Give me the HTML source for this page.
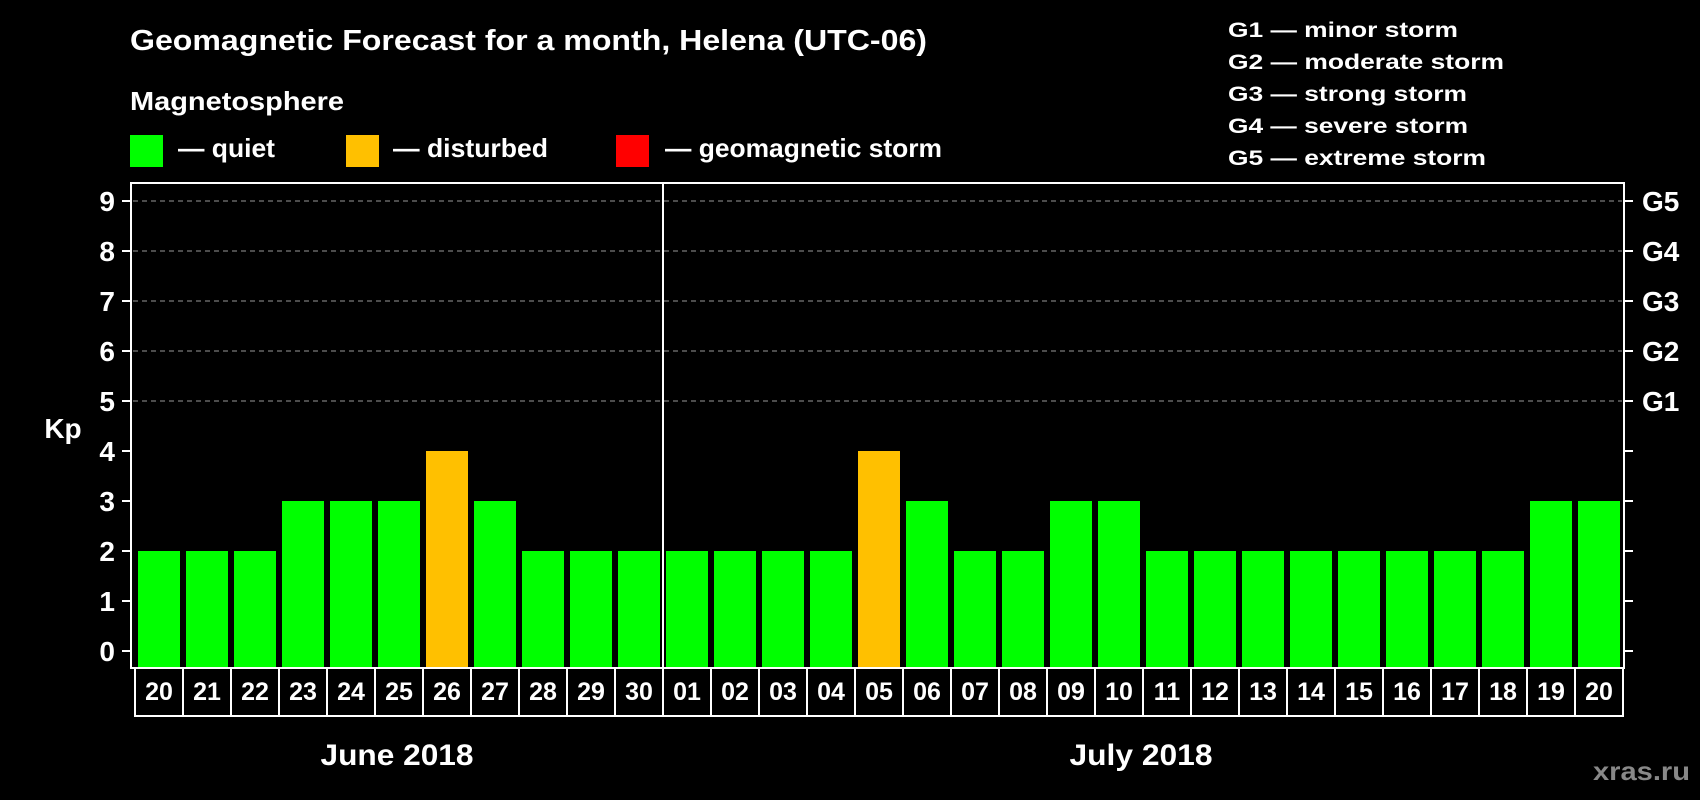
<!DOCTYPE html>
<html><head><meta charset="utf-8"><style>
html,body{margin:0;padding:0;background:#000;}
svg{display:block;font-family:"Liberation Sans",sans-serif;font-weight:bold;}
</style></head><body>
<svg id="chart" width="1700" height="800" viewBox="0 0 1700 800">
<rect x="0" y="0" width="1700" height="800" fill="#000"/>
<text x="130" y="50" fill="#fff" font-size="29" textLength="797" lengthAdjust="spacingAndGlyphs">Geomagnetic Forecast for a month, Helena (UTC-06)</text>
<text x="130" y="110" fill="#fff" font-size="26" textLength="214" lengthAdjust="spacingAndGlyphs">Magnetosphere</text>
<rect x="130" y="135" width="33" height="32" fill="#00ff00"/>
<text x="178" y="157" fill="#fff" font-size="26" textLength="97" lengthAdjust="spacingAndGlyphs">— quiet</text>
<rect x="346" y="135" width="33" height="32" fill="#ffc000"/>
<text x="393" y="157" fill="#fff" font-size="26" textLength="155" lengthAdjust="spacingAndGlyphs">— disturbed</text>
<rect x="616" y="135" width="33" height="32" fill="#ff0000"/>
<text x="665" y="157" fill="#fff" font-size="26" textLength="277" lengthAdjust="spacingAndGlyphs">— geomagnetic storm</text>
<g fill="#fff" font-size="21">
<text x="1228" y="37" textLength="230" lengthAdjust="spacingAndGlyphs">G1 — minor storm</text>
<text x="1228" y="69" textLength="276" lengthAdjust="spacingAndGlyphs">G2 — moderate storm</text>
<text x="1228" y="101" textLength="239" lengthAdjust="spacingAndGlyphs">G3 — strong storm</text>
<text x="1228" y="133" textLength="240" lengthAdjust="spacingAndGlyphs">G4 — severe storm</text>
<text x="1228" y="165" textLength="258" lengthAdjust="spacingAndGlyphs">G5 — extreme storm</text>
</g>
<g id="plot"></g>
<text x="63" y="438" fill="#fff" font-size="28" text-anchor="middle">Kp</text>
<text x="397" y="765" fill="#fff" font-size="30" text-anchor="middle" textLength="153" lengthAdjust="spacingAndGlyphs">June 2018</text>
<text x="1141" y="765" fill="#fff" font-size="30" text-anchor="middle" textLength="143" lengthAdjust="spacingAndGlyphs">July 2018</text>
<text x="1690" y="780" fill="#888" font-size="26" text-anchor="end" textLength="97" lengthAdjust="spacingAndGlyphs">xras.ru</text>
</svg>
<script>
const days = ["20","21","22","23","24","25","26","27","28","29","30","01","02","03","04","05","06","07","08","09","10","11","12","13","14","15","16","17","18","19","20"];
const kpValues = [2,2,2,3,3,3,4,3,2,2,2,2,2,2,2,4,3,2,2,3,3,2,2,2,2,2,2,2,2,3,3];
const yTicks = [0,1,2,3,4,5,6,7,8,9];
const gLabels = ["G1","G2","G3","G4","G5"];
const gLevels = [5,6,7,8,9];
const monthBreakIndex = 11;

const NS = "http://www.w3.org/2000/svg";
const plot = document.getElementById("plot");
const L = 131, R = 1624, T = 183, B = 668;
const x0 = 138, pitch = 48, bw = 42;
function yScale(v){ return 651 - 50 * v; }
function xScale(i){ return x0 + i * pitch; }
function mk(tag, attrs){ const e = document.createElementNS(NS, tag); for (const k in attrs) e.setAttribute(k, attrs[k]); plot.appendChild(e); return e; }
function colorFor(v){ return v >= 5 ? "#ff0000" : (v >= 4 ? "#ffc000" : "#00ff00"); }

// gridlines
gLevels.forEach(v => {
  const g = mk("line", {x1: L+2, x2: R-2, y1: yScale(v), y2: yScale(v), stroke: "#999", "stroke-width": 1, "stroke-dasharray": "5,4"});
  
  
});
// bars
kpValues.forEach((v, i) => {
  const b = mk("rect", {x: xScale(i), y: yScale(v), width: bw, height: B - yScale(v), fill: colorFor(v)});
  
  
});
// month divider
const dv = mk("line", {x1: xScale(monthBreakIndex) - 3, x2: xScale(monthBreakIndex) - 3, y1: T, y2: B, stroke: "#fff", "stroke-width": 2});


// frame
const fr = mk("rect", {x: L, y: T, width: R - L, height: B - T, fill: "none", stroke: "#fff", "stroke-width": 2});


// y ticks
yTicks.forEach(v => {
  const t1 = mk("line", {x1: L - 9, x2: L, y1: yScale(v), y2: yScale(v), stroke: "#fff", "stroke-width": 2});
  
  
  const t2 = mk("line", {x1: R, x2: R + 9, y1: yScale(v), y2: yScale(v), stroke: "#fff", "stroke-width": 2});
  
  
  const lb = mk("text", {x: 115, y: yScale(v) + 10, fill: "#fff", "font-size": 28, "text-anchor": "end"});
  lb.textContent = v;
  
  
});
gLabels.forEach((g, i) => {
  const lb = mk("text", {x: 1642, y: yScale(gLevels[i]) + 10, fill: "#fff", "font-size": 28});
  lb.textContent = g;
  
  
});
// day label boxes
const bx = mk("rect", {x: 135, y: B, width: R - 1 - 135, height: 716 - B, fill: "none", stroke: "#fff", "stroke-width": 2});


days.forEach((d, i) => {
  if (i > 0) {
    const s = mk("line", {x1: xScale(i) - 3, x2: xScale(i) - 3, y1: B, y2: 716, stroke: "#fff", "stroke-width": 2});
    
    
  }
  const t = mk("text", {x: xScale(i) + bw / 2, y: 700, fill: "#fff", "font-size": 25, "text-anchor": "middle"});
  t.textContent = d;
  
  
});
</script>
</body></html>
